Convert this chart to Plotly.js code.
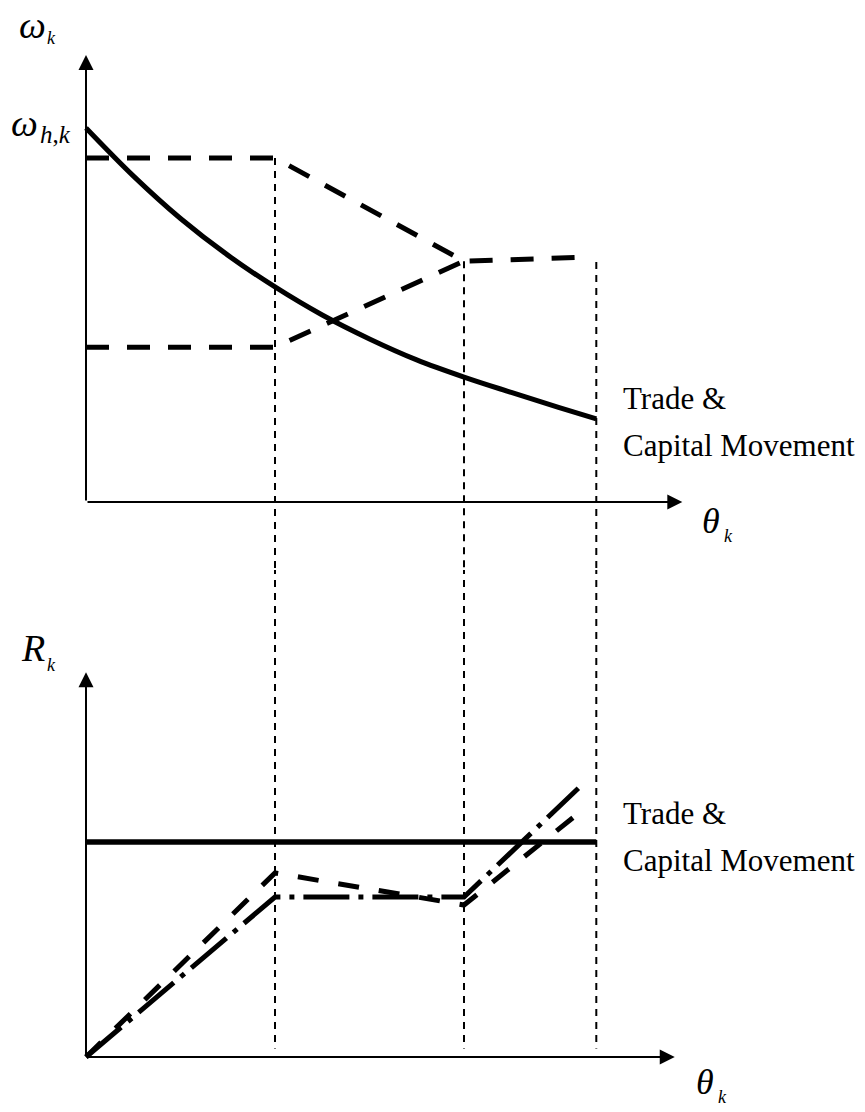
<!DOCTYPE html>
<html>
<head>
<meta charset="utf-8">
<script src="https://cdn.plot.ly/plotly-3.0.1.min.js"></script>
<style>
  html, body { margin: 0; padding: 0; background: #fff; }
  #chart { width: 865px; height: 1112px; }
</style>
</head>
<body>
<div id="chart"></div>
<script>
// ---- Upper panel: wage omega_k against theta_k ----
const thetaCurve = [0, 0.5, 1.0, 1.5, 2.0, 2.5, 3.0, 3.5, 4.0, 4.5, 5.0, 5.4];
const omegaCurve = [10.0, 8.72, 7.58, 6.6, 5.75, 5.0, 4.36, 3.8, 3.34, 2.93, 2.53, 2.22];

const thetaUpper = [0, 2, 4, 5.35];
const omegaUpper = [9.2, 9.2, 6.44, 6.55];

const thetaLower = [0, 2, 4];
const omegaLower = [4.14, 4.14, 6.44];

// vertical guides at the three thresholds
const thetaCuts = [2, 4, 5.4];
const omegaCutTops = [9.2, 6.44, 6.42];

// ---- Lower panel: R_k against theta_k ----
const thetaTrade = [0, 5.4];
const rTrade = [10, 10];

const thetaDashR = [0, 2, 4, 5.23];
const rDash = [0, 8.56, 7.07, 11.4];

const thetaDotR = [0, 2, 4, 5.21];
const rDashDot = [0, 7.44, 7.44, 12.5];

// axis extents (tips of the arrows)
const topAxisTips = { theta: 6.31, omega: 11.95 };
const botAxisTips = { theta: 6.23, r: 17.9 };

const W = 865, H = 1112;
const BLACK = '#000';

const traces = [];

// guides: upper part (top panel) and lower part (bottom panel)
thetaCuts.forEach((t, i) => {
  traces.push({
    x: [t, t], y: [omegaCutTops[i], -3], xaxis: 'x', yaxis: 'y',
    mode: 'lines', line: { color: BLACK, width: 2, dash: '7px,6px' }, hoverinfo: 'skip'
  });
  traces.push({
    x: [t, t], y: [24, 0.4], xaxis: 'x', yaxis: 'y2',
    mode: 'lines', line: { color: BLACK, width: 2, dash: '7px,6px' }, hoverinfo: 'skip'
  });
});

traces.push({
  x: thetaCurve, y: omegaCurve, xaxis: 'x', yaxis: 'y',
  mode: 'lines', line: { color: BLACK, width: 5, shape: 'spline', smoothing: 1 }
});
traces.push({
  x: thetaUpper, y: omegaUpper, xaxis: 'x', yaxis: 'y',
  mode: 'lines', line: { color: BLACK, width: 5, dash: '23px,18px' }
});
traces.push({
  x: thetaLower, y: omegaLower, xaxis: 'x', yaxis: 'y',
  mode: 'lines', line: { color: BLACK, width: 5, dash: '23px,18px' }
});

traces.push({
  x: thetaTrade, y: rTrade, xaxis: 'x', yaxis: 'y2',
  mode: 'lines', line: { color: BLACK, width: 5.5 }
});
traces.push({
  x: thetaDashR, y: rDash, xaxis: 'x', yaxis: 'y2',
  mode: 'lines', line: { color: BLACK, width: 5, dash: '21px,20px' }
});
traces.push({
  x: thetaDotR, y: rDashDot, xaxis: 'x', yaxis: 'y2',
  mode: 'lines', line: { color: BLACK, width: 5, dash: '46px,9px,5px,9px' }
});

// arrows for the axes
function axisArrow(xref, yref, x, y) {
  return {
    xref: xref, yref: yref, axref: xref, ayref: yref,
    x: x, y: y, ax: 0, ay: 0, text: '', showarrow: true,
    arrowhead: 2, arrowsize: 1.5, arrowwidth: 2, arrowcolor: BLACK, standoff: 0
  };
}

function label(text, left, centre, size) {
  return {
    xref: 'paper', yref: 'paper', x: left / W, y: 1 - centre / H,
    xanchor: 'left', yanchor: 'middle', showarrow: false, text: text,
    font: { family: 'Liberation Serif', size: size, color: BLACK }
  };
}

const annotations = [
  axisArrow('x', 'y', 0, topAxisTips.omega),
  axisArrow('x', 'y', topAxisTips.theta, 0),
  axisArrow('x', 'y2', 0, botAxisTips.r),
  axisArrow('x', 'y2', botAxisTips.theta, 0),

  label('<i>ω</i>', 17, 25, 38),
  label('<i>k</i>', 45, 38, 18),
  label('<i>ω</i>', 9, 123, 38),
  label('<i>h</i>,<i>k</i>', 38, 134, 25),
  label('<i>θ</i>', 700, 521, 36),
  label('<i>k</i>', 722, 536, 18),
  label('<i>R</i>', 19, 648, 38),
  label('<i>k</i>', 45, 665, 18),
  label('<i>θ</i>', 694, 1082, 36),
  label('<i>k</i>', 716, 1097, 18),

  label('Trade &amp;', 621, 398, 31),
  label('Capital Movement', 621, 445, 31),
  label('Trade &amp;', 621, 813, 31),
  label('Capital Movement', 621, 860, 31)
];

const hidden = { visible: false, showgrid: false, zeroline: false, fixedrange: true };

const layout = {
  width: W, height: H,
  margin: { l: 0, r: 0, t: 0, b: 0, pad: 0 },
  paper_bgcolor: '#fff', plot_bgcolor: 'rgba(0,0,0,0)',
  showlegend: false,
  xaxis: Object.assign({}, hidden, { domain: [0, 1], range: [-0.9101, 8.2434], anchor: 'y' }),
  yaxis: Object.assign({}, hidden, { domain: [0.48741, 1], range: [-1.818, 13.422], anchor: 'x' }),
  yaxis2: Object.assign({}, hidden, { domain: [0, 0.48741], range: [-2.558, 22.651], anchor: 'x' }),
  annotations: annotations
};

Plotly.newPlot('chart', traces, layout, { displayModeBar: false, staticPlot: true });
</script>
</body>
</html>
